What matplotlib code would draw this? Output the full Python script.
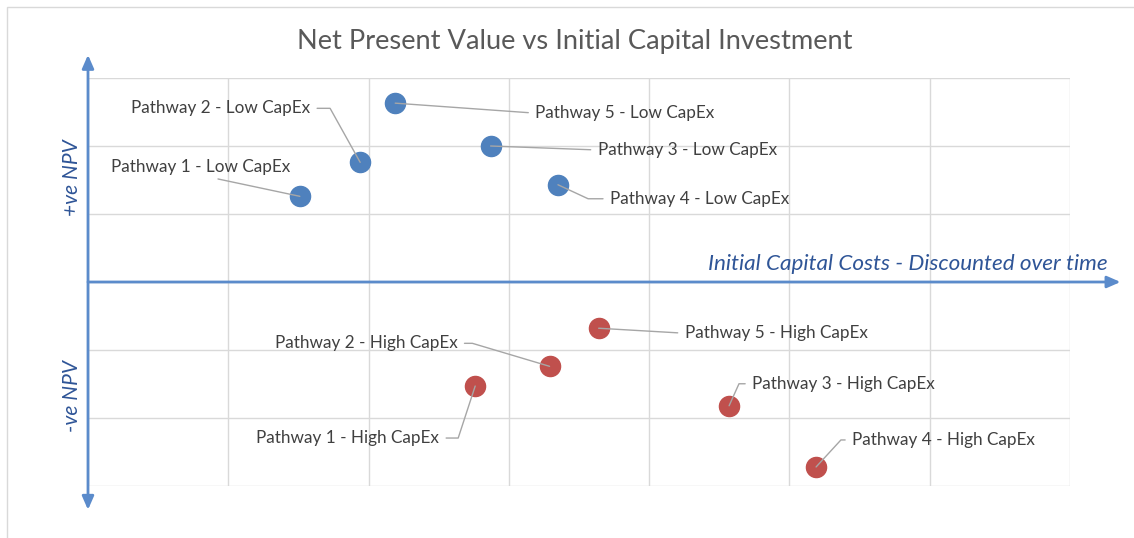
import math

import matplotlib

matplotlib.use("Agg")

import matplotlib.pyplot as plt
from matplotlib.patches import Rectangle

plt.rcParams["font.family"] = ["Lato", "DejaVu Sans"]

# data (arbitrary units, gridline = 1)
low_names = ["Pathway 1 - Low CapEx", "Pathway 2 - Low CapEx", "Pathway 3 - Low CapEx",
             "Pathway 4 - Low CapEx", "Pathway 5 - Low CapEx"]
low_cost = [1.51, 1.94, 2.87, 3.35, 2.19]
low_npv = [1.26, 1.76, 2.0, 1.43, 2.63]

high_names = ["Pathway 1 - High CapEx", "Pathway 2 - High CapEx", "Pathway 3 - High CapEx",
              "Pathway 4 - High CapEx", "Pathway 5 - High CapEx"]
high_cost = [2.76, 3.29, 4.57, 5.19, 3.64]
high_npv = [-1.53, -1.24, -1.82, -2.72, -0.68]

# label layout: text offset in pixels, alignment, leader bend offset (pixels) or None
low_layout = [(-99, 29, "center", None), (-50, 54, "right", (-30, 54)),
              (107, -4, "left", None), (52, -14, "left", (28, -13)),
              (140, -10, "left", None)]
high_layout = [(-36, -52, "right", (-17, -52)), (-92, 23, "right", (-74, 22)),
               (23, 22, "left", (9, 20)), (36, 27, "left", (23, 25)),
               (86, -5, "left", None)]

W, H = 1134, 538
fig = plt.figure(figsize=(W / 100, H / 100), dpi=100)
fig.patches.append(Rectangle((7 / W, -0.1), 1.2, 1 - 7 / H + 0.1, transform=fig.transFigure,
                             fill=False, edgecolor="#D9D9D9", linewidth=1))

ax = fig.add_axes([88 / W, 1 - 486 / H, (1070 - 88) / W, (486 - 78) / H])
ax.set_xlim(0, 7)
ax.set_ylim(-3, 3)
ax.set_xticks(range(8))
ax.set_yticks(range(-3, 4))
ax.grid(True, color="#D9D9D9", linewidth=1)
ax.tick_params(length=0, labelbottom=False, labelleft=False)
for s in ax.spines.values():
    s.set_visible(False)
ax.set_axisbelow(True)

blue = "#4F81BD"
red = "#C0504D"
axis_col = "#5B8BCB"

# axis arrows
ax.annotate("", xy=(7.36, 0), xytext=(0, 0), annotation_clip=False,
            arrowprops=dict(arrowstyle="-|>,head_length=0.8,head_width=0.35", color=axis_col,
                            lw=2, shrinkA=0, shrinkB=0))
ax.annotate("", xy=(0, 3.34), xytext=(0, -3.35), annotation_clip=False,
            arrowprops=dict(arrowstyle="<|-|>,head_length=0.8,head_width=0.35", color=axis_col,
                            lw=2, shrinkA=0, shrinkB=0))

ax.scatter(low_cost, low_npv, s=210, color=blue, zorder=3, clip_on=False)
ax.scatter(high_cost, high_npv, s=210, color=red, zorder=3, clip_on=False)


def label(names, xs, ys, layout):
    for n, x, y, (dx, dy, ha, bend) in zip(names, xs, ys, layout):
        if ha == "left":
            rel = (0, 0.5)
        elif ha == "right":
            rel = (1, 0.5)
        else:
            rel = (0.5, 0) if dy > 0 else (0.5, 1)
        conn = "arc3"
        if bend is not None:
            angB = math.degrees(math.atan2(bend[1], bend[0]))
            conn = f"angle,angleA=0,angleB={angB:.1f},rad=0"
        ax.annotate(n, xy=(x, y), xytext=(dx, dy), textcoords="offset pixels",
                    ha=ha, va="center", fontsize=12.3, color="#404040", zorder=4,
                    arrowprops=dict(arrowstyle="-", color="#A6A6A6", lw=1,
                                    relpos=rel, shrinkA=3, shrinkB=0,
                                    connectionstyle=conn))


label(low_names, low_cost, low_npv, low_layout)
label(high_names, high_cost, high_npv, high_layout)

fig.text(575 / W, 1 - 42 / H, "Net Present Value vs Initial Capital Investment",
         ha="center", va="center", fontsize=19.6, color="#595959")
fig.text(1108 / W, 1 - 264 / H, "Initial Capital Costs - Discounted over time",
         ha="right", va="center", fontsize=16.2, style="italic", color="#2F5597")
fig.text(72 / W, 1 - 178 / H, "+ve NPV", rotation=90, ha="center", va="center",
         fontsize=15, style="italic", color="#2F5597")
fig.text(72 / W, 1 - 396 / H, "-ve NPV", rotation=90, ha="center", va="center",
         fontsize=15, style="italic", color="#2F5597")

fig.savefig("out.png", dpi=100)
